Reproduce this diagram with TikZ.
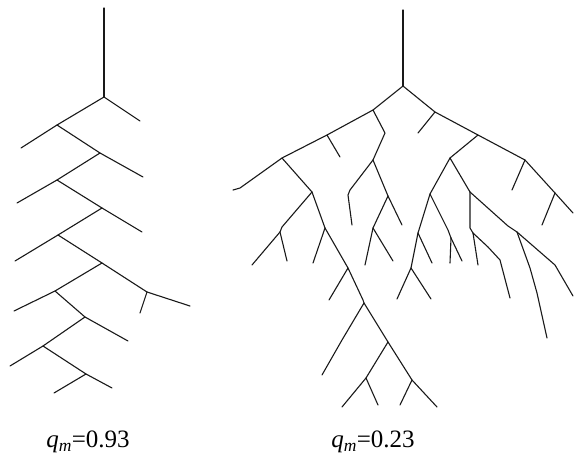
\documentclass[tikz,border=0pt]{standalone}
\usepackage{fontspec}
\setmainfont{Liberation Serif}
\tikzset{
  br/.style={draw=black!90, line width=1.1pt, line join=round, line cap=round},
  lbl/.style={font=\fontsize{25}{30}\selectfont, inner sep=0pt}
}
\begin{document}
\begin{tikzpicture}[x=1pt,y=-1pt]
\useasboundingbox (0,0) rectangle (574,464);
% ---------- left tree ----------
\draw[br] (104,8)--(104,97);
\draw[br] (104,97)--(140,121);
\draw[br] (104,97)--(57,125);
\draw[br] (57,125)--(21,148);
\draw[br] (57,125)--(100,153);
\draw[br] (100,153)--(143,177);
\draw[br] (100,153)--(57,180);
\draw[br] (57,180)--(17,203);
\draw[br] (57,180)--(102,208);
\draw[br] (102,208)--(142,232);
\draw[br] (102,208)--(58,235);
\draw[br] (58,235)--(15,261);
\draw[br] (58,235)--(102,263);
\draw[br] (102,263)--(147,292);
\draw[br] (102,263)--(55,291);
\draw[br] (147,292)--(190,306);
\draw[br] (147,292)--(140,313);
\draw[br] (55,291)--(14,311);
\draw[br] (55,291)--(85,317);
\draw[br] (85,317)--(128,341);
\draw[br] (85,317)--(43,346);
\draw[br] (43,346)--(10,366);
\draw[br] (43,346)--(86,374);
\draw[br] (86,374)--(112,388);
\draw[br] (86,374)--(54,393);
% ---------- right tree ----------
\draw[br] (403,10)--(403,86);
\draw[br] (403,86)--(435,112)--(478,135)--(525,160)--(555,193)--(573,213);
\draw[br] (435,112)--(418,133);
\draw[br] (478,135)--(450,158);
\draw[br] (450,158)--(470,192);
\draw[br] (450,158)--(430,194);
\draw[br] (525,160)--(512,190);
\draw[br] (555,193)--(542,225);
\draw[br] (430,194)--(418,233);
\draw[br] (430,194)--(448,230)--(451,238);
\draw[br] (418,233)--(411,268);
\draw[br] (418,233)--(432,263);
\draw[br] (411,268)--(397,299);
\draw[br] (411,268)--(431,299);
\draw[br] (451,238)--(450,263);
\draw[br] (451,238)--(462,261);
\draw[br] (470,192)--(470,228)--(473,233);
\draw[br] (473,233)--(478,265);
\draw[br] (473,233)--(488,247)--(500,260)--(510,298);
\draw[br] (470,192)--(508,226)--(517,232);
\draw[br] (517,232)--(555,265)--(573,296);
\draw[br] (517,232)--(530,268)--(537,293)--(547,338);
\draw[br] (403,86)--(373,110);
\draw[br] (373,110)--(327,135)--(282,158)--(240,188)--(233,190);
\draw[br] (327,135)--(340,157);
\draw[br] (373,110)--(385,133)--(373,160);
\draw[br] (373,160)--(350,190)--(348,195)--(352,225);
\draw[br] (373,160)--(388,196);
\draw[br] (388,196)--(373,228);
\draw[br] (388,196)--(402,225);
\draw[br] (373,228)--(365,265);
\draw[br] (373,228)--(393,261);
\draw[br] (282,158)--(312,192);
\draw[br] (312,192)--(282,227)--(280,232);
\draw[br] (280,232)--(252,265);
\draw[br] (280,232)--(287,261);
\draw[br] (312,192)--(325,228);
\draw[br] (325,228)--(313,263);
\draw[br] (325,228)--(348,268);
\draw[br] (348,268)--(329,300);
\draw[br] (348,268)--(363,300)--(364,303);
\draw[br] (364,303)--(342,340)--(322,375);
\draw[br] (364,303)--(388,342);
\draw[br] (388,342)--(366,378);
\draw[br] (388,342)--(412,380);
\draw[br] (366,378)--(342,407);
\draw[br] (366,378)--(378,405);
\draw[br] (412,380)--(400,405);
\draw[br] (412,380)--(437,407);
% ---------- labels ----------
\node[lbl] (la) at (88,442) {\textit{q}\textsubscript{\textit{m}}=0.93};
\node[lbl] (lb) at (373,442) {\textit{q}\textsubscript{\textit{m}}=0.23};
\end{tikzpicture}
\end{document}
